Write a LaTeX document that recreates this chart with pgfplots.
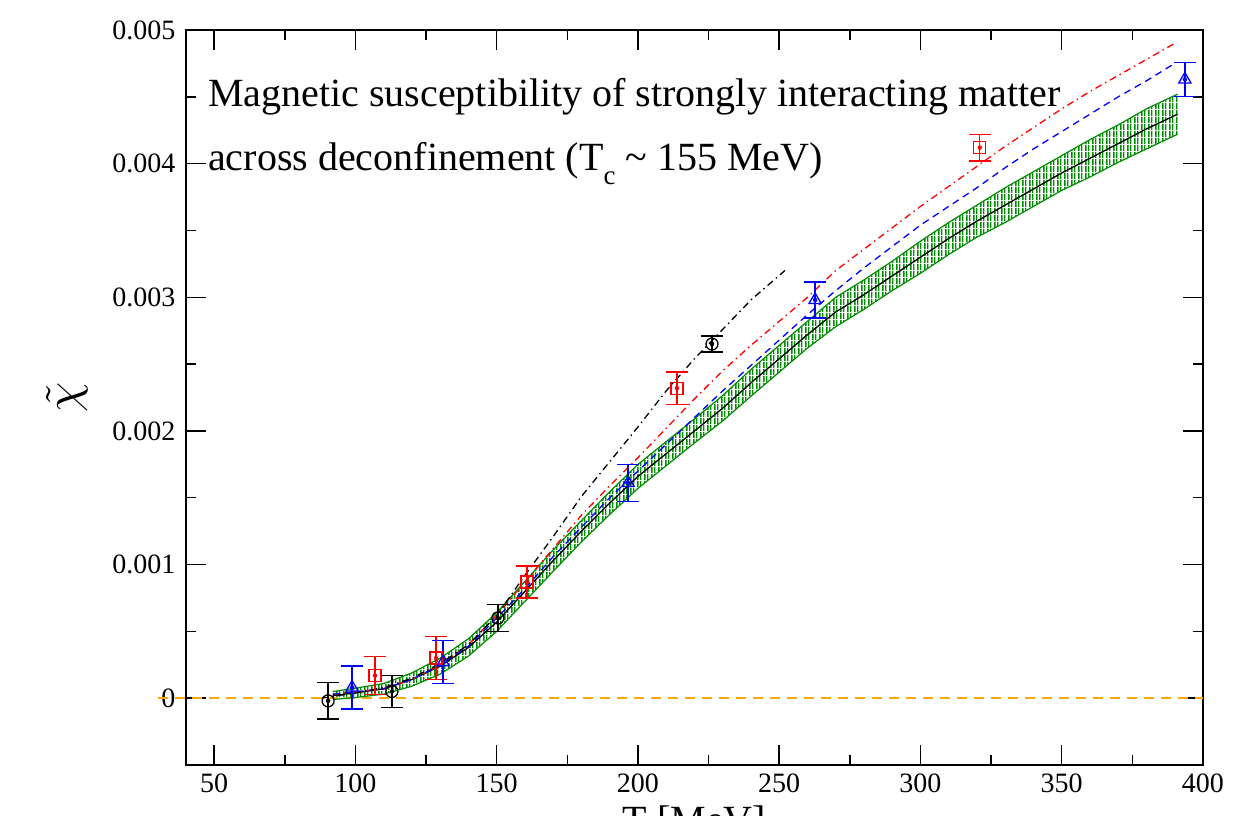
\documentclass[border=0pt]{standalone}
\usepackage{fontspec}
\setmainfont{Liberation Serif}
\usepackage{pgfplots}
\usepackage{pgfplotstable}
\pgfplotsset{compat=1.18}
\usepgfplotslibrary{fillbetween}
\usetikzlibrary{patterns}
\definecolor{dkgreen}{rgb}{0,0.55,0}
\definecolor{gorange}{rgb}{1,0.65,0}
\pgfdeclarepatterninherentlycolored{gstripes}{\pgfpointorigin}{\pgfqpoint{7pt}{7pt}}{\pgfqpoint{7pt}{7pt}}{%
  \pgfsetstrokecolor{dkgreen}%
  \pgfsetlinewidth{1.5pt}%
  \pgfpathmoveto{\pgfqpoint{1pt}{0pt}}\pgfpathlineto{\pgfqpoint{1pt}{7pt}}%
  \pgfpathmoveto{\pgfqpoint{4.2pt}{0pt}}\pgfpathlineto{\pgfqpoint{4.2pt}{7pt}}%
  \pgfusepath{stroke}}

\pgfplotstableread{
T   c        lo        hi
92  0.00002  -0.00001  0.00005
100 0.00004  0.000005  0.000075
110 0.00007  0.00003   0.00011
120 0.00014  0.00009   0.00019
130 0.00024  0.00018   0.00030
140 0.00038  0.000315  0.000445
150 0.00057  0.0005    0.00064
160 0.00080  0.000725  0.000875
170 0.00103  0.00095   0.00111
180 0.00125  0.00117   0.00133
190 0.00146  0.001375  0.001545
200 0.00166  0.00157   0.00175
210 0.00183  0.00174   0.00192
220 0.00200  0.00191   0.00209
230 0.00217  0.002075  0.002265
240 0.00236  0.00226   0.00246
250 0.00254  0.00244   0.00264
260 0.00272  0.00262   0.00282
270 0.00289  0.00278   0.00300
280 0.00302  0.00291   0.00313
290 0.00316  0.00305   0.00327
300 0.00330  0.00318   0.00342
310 0.00344  0.00332   0.00356
320 0.00357  0.00345   0.00369
330 0.00369  0.00356   0.00382
340 0.00381  0.00368   0.00394
350 0.00393  0.00380   0.00406
360 0.00404  0.00390   0.00418
370 0.00415  0.00401   0.00429
380 0.00426  0.00411   0.00441
391 0.00437  0.00422   0.00452
}\band

\pgfplotstableread{
T   v
92  0.00003
110 0.00007
120 0.00014
130 0.00025
140 0.00040
150 0.00062
160 0.00087
170 0.00112
180 0.00137
190 0.00159
200 0.00180
210 0.00202
220 0.00224
230 0.00245
240 0.00264
250 0.00282
260 0.00300
270 0.00320
280 0.00336
290 0.00352
300 0.00368
310 0.00383
320 0.00398
330 0.00413
340 0.00427
350 0.00441
360 0.00454
370 0.00466
380 0.00478
390 0.00490
}\redline

\pgfplotstableread{
T   v
92  0.00003
110 0.00007
120 0.00014
130 0.00025
140 0.00039
150 0.00060
160 0.00082
170 0.00106
180 0.00128
190 0.00150
200 0.00170
210 0.00190
220 0.00210
230 0.00230
240 0.00249
250 0.00268
260 0.00287
270 0.00305
280 0.00322
290 0.00338
300 0.00354
310 0.00368
320 0.00382
330 0.00397
340 0.00411
350 0.00424
360 0.00437
370 0.00450
380 0.00462
390 0.00475
}\blueline

\pgfplotstableread{
T   v
88  0.00000
100 0.00004
110 0.00008
120 0.00015
130 0.00026
140 0.00040
150 0.00062
160 0.00092
170 0.00121
180 0.00151
190 0.00177
200 0.00203
210 0.00230
220 0.00254
230 0.00276
240 0.00298
252 0.00320
}\blackline

\pgfplotstableread{
T     v         e
90.3  -0.00002  0.000135
112.9 0.00005   0.00012
150.4 0.00060   0.00010
226.2 0.00265   0.00006
}\blackpts

\pgfplotstableread{
T     v        e
106.9 0.00017  0.00014
128.5 0.00030  0.00016
160.7 0.00087  0.00012
213.8 0.00232  0.00012
321.0 0.00412  0.00010
}\redpts

\pgfplotstableread{
T     v        e
98.8  0.00008  0.00016
131.0 0.00027  0.00016
196.5 0.00161  0.00014
262.7 0.00298  0.000135
393.6 0.00463  0.000127
}\bluepts

\begin{document}
\begin{tikzpicture}
\begin{axis}[
  scale only axis, width=1017pt, height=735pt,
  xmin=40, xmax=400, ymin=-0.0005, ymax=0.005,
  xtick={50,100,...,400}, minor x tick num=1,
  ytick={0,0.001,0.002,0.003,0.004,0.005},
  yticklabels={0,0.001,0.002,0.003,0.004,0.005},
  minor y tick num=1,
  scaled y ticks=false,
  tick align=inside, major tick length=20pt, minor tick length=10pt,
  every tick/.style={line width=1.5pt, black},
  axis line style={line width=1.5pt},
  tick label style={font=\fontsize{28}{30}\selectfont},
  yticklabel style={xshift=-7pt},
  xticklabel style={yshift=-5pt},
  /pgf/number format/assume math mode=true,
  xlabel={T [MeV]}, ylabel={\scalebox{4.8}{$\tilde{\chi}$}},
  xlabel style={font=\fontsize{40}{44}\selectfont, yshift=-6pt},
  ylabel style={yshift=18pt},
  clip=false,
]
\addplot[gorange, line width=1.5pt, dash pattern=on 10pt off 7pt] coordinates {(30,0) (400,0)};

\addplot[name path=up, dkgreen, line width=1.2pt] table[x=T,y=hi] {\band};
\addplot[name path=dn, dkgreen, line width=1.2pt] table[x=T,y=lo] {\band};
\addplot[pattern=gstripes, draw=none] fill between[of=up and dn];
\addplot[black, line width=1.3pt] table[x=T,y=c] {\band};

\addplot[red, line width=1.3pt, dash pattern=on 7pt off 4pt on 1.5pt off 4pt] table[x=T,y=v] {\redline};
\addplot[blue, line width=1.3pt, dash pattern=on 7pt off 5pt] table[x=T,y=v] {\blueline};
\addplot[black, line width=1.3pt, dash pattern=on 7pt off 4pt on 1.5pt off 4pt] table[x=T,y=v] {\blackline};

\addplot[black, only marks, mark=none, forget plot,
  error bars/.cd, y dir=both, y explicit, error bar style={black, solid, line width=1.3pt},
  error mark options={black, rotate=90, mark size=11pt, line width=1.3pt}]
  table[x=T,y=v,y error=e] {\blackpts};
\addplot[red, only marks, mark=none, forget plot,
  error bars/.cd, y dir=both, y explicit, error bar style={red, solid, line width=1.3pt},
  error mark options={red, rotate=90, mark size=11pt, line width=1.3pt}]
  table[x=T,y=v,y error=e] {\redpts};
\addplot[blue, only marks, mark=none, forget plot,
  error bars/.cd, y dir=both, y explicit, error bar style={blue, solid, line width=1.3pt},
  error mark options={blue, rotate=90, mark size=11pt, line width=1.3pt}]
  table[x=T,y=v,y error=e] {\bluepts};

\addplot[draw=black, only marks, mark=o, mark size=6pt, mark options={draw=black, solid, line width=1.3pt}]
  table[x=T,y=v] {\blackpts};
\addplot[draw=red, only marks, mark=square, mark size=6pt, mark options={draw=red, solid, line width=1.3pt}]
  table[x=T,y=v] {\redpts};
\addplot[draw=blue, only marks, mark=triangle, mark size=7pt, mark options={draw=blue, solid, line width=1.3pt}]
  table[x=T,y=v] {\bluepts};

\node[anchor=base west, inner sep=0pt, font=\fontsize{40}{48}\selectfont] at (axis cs:47.8,0.004424)
  {Magnetic susceptibility of strongly interacting matter};
\node[anchor=base west, inner sep=0pt, font=\fontsize{40}{48}\selectfont] at (axis cs:47.8,0.003952)
  {across deconfinement (T\raisebox{-0.35em}{\fontsize{27}{27}\selectfont c} \textasciitilde{} 155 MeV)};
\end{axis}
\pgfresetboundingbox
\useasboundingbox (-186pt,-50pt) rectangle (1060pt,765pt);
\end{tikzpicture}
\end{document}
